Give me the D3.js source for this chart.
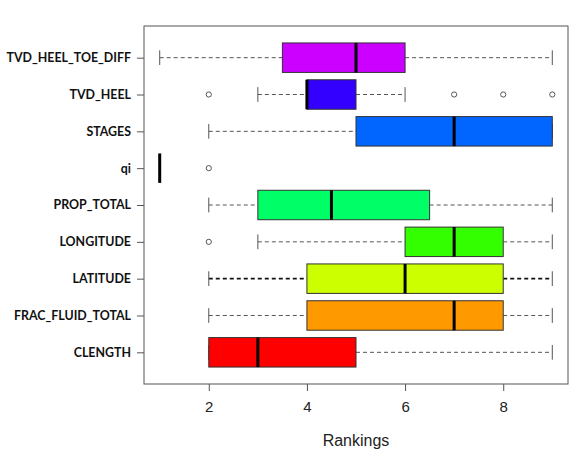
<!DOCTYPE html>
<html>
<head>
<meta charset="utf-8">
<script src="https://cdn.jsdelivr.net/npm/d3@7"></script>
<style>
  body { margin: 0; background: #fff; }
  svg { display: block; }
</style>
</head>
<body>
<div id="container"></div>
<script>
// variables, top to bottom
var categories = ["TVD_HEEL_TOE_DIFF", "TVD_HEEL", "STAGES", "qi", "PROP_TOTAL",
                  "LONGITUDE", "LATITUDE", "FRAC_FLUID_TOTAL", "CLENGTH"];
var whiskerLow  = [1, 3, 2, 1, 2,   3, 2, 2, 2];
var boxLow      = [3.5, 4, 5, 1, 3, 6, 4, 4, 2];
var medians     = [5, 4, 7, 1, 4.5, 7, 6, 7, 3];
var boxHigh     = [6, 5, 9, 1, 6.5, 8, 8, 8, 5];
var whiskerHigh = [9, 6, 9, 1, 9,   9, 9, 9, 9];
var outliers    = [[], [2, 7, 8, 9], [], [2], [], [2], [], [], []];
var fills = ["#CC00FF", "#3300FF", "#0066FF", "#00FFFF", "#00FF66",
             "#33FF00", "#CCFF00", "#FF9900", "#FF0000"];
var xTicks = [2, 4, 6, 8];

var width = 576, height = 454;
var margin = {left: 144, right: 8, top: 26, bottom: 70};

var svg = d3.select("#container").append("svg")
    .attr("width", width)
    .attr("height", height);

var x = d3.scaleLinear()
    .domain([0.68, 9.32])
    .range([margin.left, width - margin.right]);

// index 0 at top; R puts position n at top
var y = d3.scaleLinear()
    .domain([-0.5 - 0.36, categories.length - 0.5 + 0.36])
    .range([margin.top, height - margin.bottom]);

var step = Math.abs(y(1) - y(0));
var half = step * 0.8 / 2;
var cap = step * 0.8 / 4;

var rows = categories.map(function(c, i) {
    return {name: c, i: i, wl: whiskerLow[i], q1: boxLow[i], med: medians[i],
            q3: boxHigh[i], wh: whiskerHigh[i], out: outliers[i], fill: fills[i]};
});

var g = svg.selectAll("g.row")
    .data(rows)
    .enter()
    .append("g")
    .attr("class", "row");

// whiskers
g.append("line")
    .attr("x1", function(d) { return x(d.wl); })
    .attr("x2", function(d) { return x(d.q1); })
    .attr("y1", function(d) { return y(d.i); })
    .attr("y2", function(d) { return y(d.i); });
g.append("line")
    .attr("x1", function(d) { return x(d.q3); })
    .attr("x2", function(d) { return x(d.wh); })
    .attr("y1", function(d) { return y(d.i); })
    .attr("y2", function(d) { return y(d.i); });
g.selectAll("line")
    .attr("stroke", function(d) { return d.name == "LATITUDE" ? "#111" : "#555"; })
    .attr("stroke-width", function(d) { return d.name == "LATITUDE" ? 1.6 : 1; })
    .attr("stroke-dasharray", "4,3");

// staples
g.each(function(d) {
    if (d.wl == d.wh) return;
    var sel = d3.select(this);
    [d.wl, d.wh].forEach(function(v) {
        sel.append("line")
            .attr("x1", x(v)).attr("x2", x(v))
            .attr("y1", y(d.i) - cap).attr("y2", y(d.i) + cap)
            .attr("stroke", "#555")
            .attr("stroke-width", 1);
    });
});

// boxes
g.filter(function(d) { return d.q3 > d.q1; })
    .append("rect")
    .attr("x", function(d) { return x(d.q1); })
    .attr("width", function(d) { return x(d.q3) - x(d.q1); })
    .attr("y", function(d) { return y(d.i) - half; })
    .attr("height", half * 2)
    .attr("fill", function(d) { return d.fill; })
    .attr("stroke", "#333")
    .attr("stroke-width", 1);

// medians
g.append("line")
    .attr("x1", function(d) { return x(d.med); })
    .attr("x2", function(d) { return x(d.med); })
    .attr("y1", function(d) { return y(d.i) - half; })
    .attr("y2", function(d) { return y(d.i) + half; })
    .attr("stroke", "#000")
    .attr("stroke-width", 3);

// outliers
g.selectAll("circle")
    .data(function(d) { return d.out.map(function(v) { return {v: v, i: d.i}; }); })
    .enter()
    .append("circle")
    .attr("cx", function(d) { return x(d.v); })
    .attr("cy", function(d) { return y(d.i); })
    .attr("r", 2.6)
    .attr("fill", "none")
    .attr("stroke", "#555")
    .attr("stroke-width", 1);

// frame
svg.append("rect")
    .attr("x", margin.left)
    .attr("y", margin.top)
    .attr("width", width - margin.right - margin.left)
    .attr("height", height - margin.bottom - margin.top)
    .attr("fill", "none")
    .attr("stroke", "#555")
    .attr("stroke-width", 1);

// x axis
var xAxis = svg.append("g")
    .attr("transform", "translate(0," + (height - margin.bottom) + ")")
    .call(d3.axisBottom(x).tickValues(xTicks).tickSize(7).tickPadding(10));
xAxis.select(".domain").remove();
xAxis.selectAll("line").attr("stroke", "#555");
xAxis.selectAll("text")
    .attr("font-family", "Liberation Sans, Arial, sans-serif")
    .attr("font-size", "15px")
    .attr("fill", "#222");

// y axis
var yAxis = svg.append("g")
    .attr("transform", "translate(" + margin.left + ",0)")
    .call(d3.axisLeft(y)
        .tickValues(d3.range(categories.length))
        .tickFormat(function(i) { return categories[i]; })
        .tickSize(7).tickPadding(6));
yAxis.select(".domain").remove();
yAxis.selectAll("line").attr("stroke", "#555");
yAxis.selectAll("text")
    .attr("font-family", "Lato, sans-serif")
    .attr("font-weight", "bold")
    .attr("font-size", "12.4px")
    .attr("fill", "#111");

svg.append("text")
    .attr("x", x(5))
    .attr("y", 446)
    .attr("text-anchor", "middle")
    .attr("font-family", "Liberation Sans, Arial, sans-serif")
    .attr("font-size", "16px")
    .attr("fill", "#222")
    .text("Rankings");
</script>
</body>
</html>
